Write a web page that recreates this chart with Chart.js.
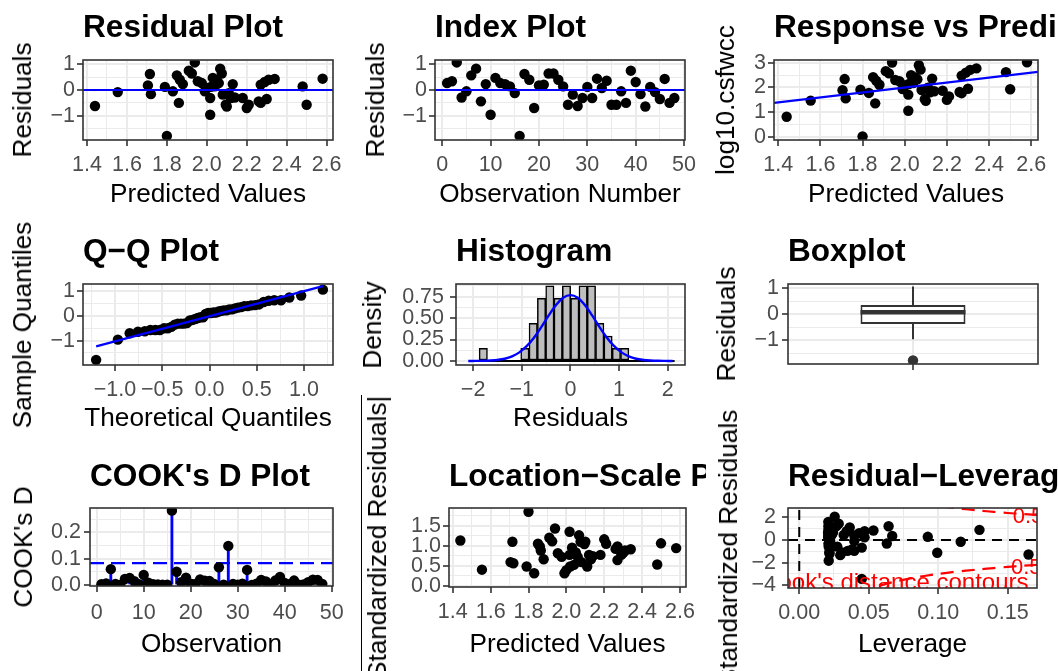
<!DOCTYPE html>
<html>
<head>
<meta charset="utf-8">
<title>Regression diagnostics</title>
<script src="https://cdn.jsdelivr.net/npm/chart.js@4.4.1/dist/chart.umd.min.js"></script>
<style>
  html, body { margin: 0; padding: 0; background: #fff; }
  #page { position: relative; width: 1058px; height: 671px; overflow: hidden; background: #fff;
          font-family: "Liberation Sans", Arial, sans-serif; }
  #page canvas { position: absolute; }
  .ptitle { position: absolute; font-weight: bold; font-size: 31.6px; line-height: 1; white-space: nowrap; color: #000; }
  .ytitle { position: absolute; font-size: 26.2px; line-height: 1; white-space: nowrap; color: #000;
            transform-origin: 0 0; transform: rotate(-90deg) translateX(-50%); }
  .cover { position: absolute; background: #fff; }
</style>
</head>
<body>
<div id="page"></div>
<script>
// ---------- data (one entry per observation, 1..48) ----------
const predicted = [1.975, 1.955, 1.94, 2.14, 1.99, 1.85, 2.067, 2.26, 1.88, 2.017,
  2.03, 2.06, 2.13, 2.04, 2.11, 1.80, 1.715, 1.865, 2.20, 1.705,
  2.27, 1.925, 2.075, 2.31, 2.48, 2.50, 2.08, 1.44, 2.017, 1.79,
  2.18, 2.58, 2.00, 2.05, 2.21, 2.095, 1.83, 1.86, 1.91, 2.29,
  1.72, 2.10, 2.02, 1.554, 2.30, 2.34, 2.27, 2.12];
const residuals = [0.27, 0.34, 1.07, -0.29, -0.05, 0.57, 0.83, -0.44, 0.23, -0.96,
  0.47, 0.27, 0.23, 0.14, -0.12, -1.78, 0.62, 0.40, -0.70, 0.18,
  0.21, 0.64, 0.64, 0.40, 0.14, -0.57, -0.18, -0.62, -0.31, 0.12,
  -0.31, 0.44, 0.08, 0.36, -0.57, -0.57, -0.05, -0.50, 0.75, 0.31,
  -0.16, -0.64, 0.12, -0.08, -0.35, 0.43, -0.50, -0.31];
const response = [2.25, 2.30, 3.01, 1.85, 1.94, 2.42, 2.90, 1.82, 2.11, 1.06,
  2.50, 2.33, 2.36, 2.18, 1.99, 0.02, 2.34, 2.27, 1.50, 1.89,
  2.48, 2.57, 2.72, 2.71, 2.62, 1.93, 1.90, 0.82, 1.71, 1.91,
  1.87, 3.02, 2.08, 2.41, 1.64, 1.53, 1.78, 1.36, 2.66, 2.60,
  1.56, 1.46, 2.14, 1.47, 1.95, 2.77, 1.77, 1.81];
const leverage = [0.023, 0.0243, 0.0255, 0.024, 0.0222, 0.0363, 0.0209, 0.0379, 0.032, 0.0212,
  0.021, 0.0208, 0.0233, 0.0208, 0.0222, 0.045, 0.0643, 0.0341, 0.0295, 0.0669,
  0.0396, 0.0268, 0.021, 0.047, 0.0925, 0.0993, 0.021, 0.165, 0.0212, 0.047,
  0.0274, 0.1297, 0.0218, 0.0208, 0.0307, 0.0216, 0.0396, 0.0348, 0.0284, 0.0431,
  0.063, 0.0218, 0.0211, 0.1162, 0.045, 0.0534, 0.0396, 0.0227];
const stdResid = [0.515, 0.65, 2.045, -0.554, -0.096, 1.096, 1.583, -0.846, 0.441, -1.83,
  0.896, 0.515, 0.439, 0.267, -0.229, -3.437, 1.209, 0.768, -1.341, 0.352,
  0.404, 1.224, 1.22, 0.773, 0.277, -1.133, -0.343, -1.28, -0.591, 0.232,
  -0.593, 0.89, 0.153, 0.686, -1.092, -1.087, -0.096, -0.96, 1.436, 0.598,
  -0.312, -1.221, 0.229, -0.161, -0.676, 0.834, -0.963, -0.592];
const sqrtAbsStd = [0.72, 0.81, 1.43, 0.74, 0.31, 1.05, 1.26, 0.92, 0.66, 1.35,
  0.95, 0.72, 0.66, 0.52, 0.48, 1.85, 1.10, 0.88, 1.16, 0.59,
  0.64, 1.11, 1.10, 0.88, 0.53, 1.06, 0.59, 1.13, 0.77, 0.48,
  0.77, 0.94, 0.39, 0.83, 1.05, 1.04, 0.31, 0.98, 1.20, 0.77,
  0.56, 1.10, 0.48, 0.40, 0.82, 0.91, 0.98, 0.77];
const cooksD = [0.0031, 0.0053, 0.06, 0.0038, 0.0001, 0.0226, 0.0267, 0.0141, 0.0032, 0.038,
  0.0086, 0.0028, 0.0023, 0.0007, 0.0006, 0.282, 0.05, 0.0104, 0.0273, 0.0044,
  0.0034, 0.0206, 0.016, 0.0147, 0.0039, 0.067, 0.0013, 0.148, 0.0038, 0.0013,
  0.005, 0.057, 0.0003, 0.005, 0.0189, 0.013, 0.0002, 0.0166, 0.0301, 0.008,
  0.0033, 0.0166, 0.0006, 0.0017, 0.0108, 0.0196, 0.0191, 0.0041];
const observation = residuals.map((_, i) => i + 1);
const cooksCutoff = 0.083;

const theoQuantiles = [-1.20, -0.97, -0.845, -0.757, -0.685, -0.626, -0.573, -0.525, -0.482, -0.441,
  -0.404, -0.368, -0.334, -0.301, -0.270, -0.239, -0.209, -0.180, -0.151, -0.123,
  -0.096, -0.068, -0.041, -0.014, 0.014, 0.041, 0.068, 0.096, 0.123, 0.151,
  0.180, 0.209, 0.239, 0.270, 0.301, 0.334, 0.368, 0.404, 0.441, 0.482,
  0.525, 0.573, 0.626, 0.685, 0.757, 0.845, 0.97, 1.20];
const sampleQuantiles = [-1.78, -0.96, -0.70, -0.64, -0.62, -0.57, -0.57, -0.57, -0.50, -0.50,
  -0.44, -0.35, -0.31, -0.31, -0.31, -0.29, -0.18, -0.16, -0.12, -0.08,
  -0.05, -0.05, 0.08, 0.12, 0.12, 0.14, 0.14, 0.18, 0.21, 0.23,
  0.23, 0.27, 0.27, 0.31, 0.34, 0.36, 0.40, 0.40, 0.43, 0.44,
  0.47, 0.57, 0.62, 0.64, 0.64, 0.75, 0.83, 1.07];
const qqLine = { slope: 1.02, intercept: -0.011 };
const fitLine = { slope: 1, intercept: 0 };

const histMid = [-1.962, -1.791, -1.620, -1.449, -1.278, -1.107, -0.936, -0.765, -0.594, -0.423,
  -0.252, -0.081, 0.090, 0.261, 0.432, 0.603, 0.774, 0.945, 1.116, 1.287,
  1.458, 1.629, 1.800, 1.971, 2.142];
const histDensity = [0, 0.146, 0, 0, 0, 0, 0.146, 0.44, 0.73, 0.875,
  0.73, 0.875, 0.73, 0.875, 0.875, 0.44, 0.29, 0.146, 0.146, 0,
  0, 0, 0, 0, 0];
const normX = [-2.1, -1.95, -1.8, -1.65, -1.5, -1.35, -1.2, -1.05, -0.9, -0.75, -0.6, -0.45, -0.3, -0.15, 0,
  0.15, 0.3, 0.45, 0.6, 0.75, 0.9, 1.05, 1.2, 1.35, 1.5, 1.65, 1.8, 1.95, 2.1];
const normY = [0.0002, 0.0007, 0.0019, 0.005, 0.012, 0.026, 0.054, 0.100, 0.172, 0.271, 0.394, 0.528, 0.649, 0.736, 0.767,
  0.736, 0.649, 0.528, 0.394, 0.271, 0.172, 0.100, 0.054, 0.026, 0.012, 0.005, 0.0019, 0.0007, 0.0002];

const boxStats = { lo: -0.96, q1: -0.376, med: 0.077, q3: 0.36, hi: 1.07 };
const boxOutliers = [-1.78];

const contourLev = [0.02, 0.03, 0.04, 0.05, 0.06, 0.07, 0.08, 0.09, 0.10, 0.11, 0.12, 0.13, 0.14, 0.15, 0.16, 0.17, 0.18];
const contourUpper = [7.0, 5.69, 4.90, 4.36, 3.96, 3.64, 3.39, 3.18, 3.00, 2.84, 2.71, 2.59, 2.48, 2.38, 2.29, 2.21, 2.13];
const contourLower = [-7.0, -5.69, -4.90, -4.36, -3.96, -3.64, -3.39, -3.18, -3.00, -2.84, -2.71, -2.59, -2.48, -2.38, -2.29, -2.21, -2.13];

// tick values and labels
const predTicks = [1.4, 1.6, 1.8, 2.0, 2.2, 2.4, 2.6];
const predLabels = ['1.4', '1.6', '1.8', '2.0', '2.2', '2.4', '2.6'];
const resTicks = [-1, 0, 1];
const resLabels = ['\u22121', '0', '1'];
const obsTicks = [0, 10, 20, 30, 40, 50];
const obsLabels = ['0', '10', '20', '30', '40', '50'];
const respTicks = [0, 1, 2, 3];
const respLabels = ['0', '1', '2', '3'];
const qTicks = [-1, -0.5, 0, 0.5, 1];
const qLabels = ['\u22121.0', '\u22120.5', '0.0', '0.5', '1.0'];
const histTicks = [-2, -1, 0, 1, 2];
const histLabels = ['\u22122', '\u22121', '0', '1', '2'];
const densTicks = [0, 0.25, 0.5, 0.75];
const densLabels = ['0.00', '0.25', '0.50', '0.75'];
const cookTicks = [0, 0.1, 0.2];
const cookLabels = ['0.0', '0.1', '0.2'];
const lsTicks = [0, 0.5, 1, 1.5];
const lsLabels = ['0.0', '0.5', '1.0', '1.5'];
const levTicks = [0, 0.05, 0.10, 0.15];
const levLabels = ['0.00', '0.05', '0.10', '0.15'];
const sresTicks = [-4, -2, 0, 2];
const sresLabels = ['\u22124', '\u22122', '0', '2'];

// ---------- helpers ----------
const FONT = '"Liberation Sans", Arial, sans-serif';
const BLUE = '#0000FF', DARK = '#333333';
const TICK_FS = 21.5, AXIS_FS = 26.2, TITLE_FS = 31.6, PT = 5.2;
const page = document.getElementById('page');
const xy = (xs, ys) => xs.map((x, i) => ({ x, y: ys[i] }));

function buildTicks(major, min, max) {
  const out = major.map(v => ({ v, m: true }));
  if (major.length > 1) {
    const step = major[1] - major[0];
    const mids = [major[0] - step / 2];
    for (let i = 0; i < major.length - 1; i++) mids.push((major[i] + major[i + 1]) / 2);
    mids.push(major[major.length - 1] + step / 2);
    mids.forEach(v => out.push({ v, m: false }));
  }
  return out.filter(t => t.v >= min - 1e-9 && t.v <= max + 1e-9).sort((a, b) => a.v - b.v);
}

function axis(o, pos, size) {
  const list = buildTicks(o.ticks, o.min, o.max);
  const label = v => {
    const i = o.ticks.findIndex(t => Math.abs(t - v) < 1e-9);
    return i < 0 || !o.labels ? '' : o.labels[i];
  };
  return {
    type: 'linear', position: pos, min: o.min, max: o.max, offset: false,
    afterBuildTicks: s => { s.ticks = list.map(t => ({ value: t.v, isMajor: t.m })); },
    afterFit: s => { if (pos === 'left') s.width = size; else s.height = size; },
    grid: {
      color: '#EBEBEB',
      lineWidth: c => (c.tick && c.tick.isMajor ? 2 : 1),
      tickColor: c => (c.tick && c.tick.isMajor ? DARK : 'rgba(0,0,0,0)'),
      tickLength: 6, tickWidth: 1.6, drawTicks: true, offset: false
    },
    border: { display: false },
    ticks: {
      autoSkip: false, maxRotation: 0, minRotation: 0,
      padding: o.tickPad !== undefined ? o.tickPad : (pos === 'left' ? 2 : 6),
      color: '#4D4D4D', font: { family: FONT, size: TICK_FS },
      callback: (v, i, arr) => (arr[i].isMajor ? label(arr[i].value) : '')
    },
    title: o.title
      ? { display: true, text: o.title, color: '#000', font: { family: FONT, size: AXIS_FS }, padding: { top: 0, bottom: o.titlePad } }
      : { display: false }
  };
}

const frame = {
  id: 'frame',
  afterDraw(chart) {
    const a = chart.chartArea, ctx = chart.ctx;
    ctx.save();
    ctx.strokeStyle = DARK; ctx.lineWidth = 1.6;
    ctx.strokeRect(a.left, a.top, a.right - a.left, a.bottom - a.top);
    ctx.restore();
  }
};

const pts = (data, order, color) => ({
  type: 'scatter', data, pointRadius: PT, pointHoverRadius: PT, pointBackgroundColor: color || '#000',
  pointBorderWidth: 0, showLine: false, order, clip: 0
});
const line = (data, color, width, order, dash) => ({
  type: 'line', data, borderColor: color, borderWidth: width, borderDash: dash || [], pointRadius: 0,
  fill: false, tension: 0, order, clip: 0
});

function panel(p) {
  const [cx, cy, cw, ch] = p.cell;
  const [L, T, R, B] = p.area;
  const cv = document.createElement('canvas');
  cv.width = cw; cv.height = ch;
  cv.style.left = cx + 'px'; cv.style.top = cy + 'px';
  page.appendChild(cv);
  new Chart(cv, {
    type: 'scatter',
    data: { datasets: p.datasets },
    options: {
      responsive: false, animation: false, devicePixelRatio: 1, events: [],
      layout: { padding: { left: 0, top: T - cy, right: cx + cw - R, bottom: 0 } },
      plugins: { legend: { display: false }, tooltip: { enabled: false }, title: { display: false } },
      scales: { x: axis(p.x, 'bottom', cy + ch - B), y: axis(p.y, 'left', L - cx) }
    },
    plugins: [frame].concat(p.plugins || [])
  });
  const t = document.createElement('div');
  t.className = 'ptitle';
  t.textContent = p.title;
  t.style.left = L + 'px';
  t.style.top = (p.titleBase - 0.8465 * TITLE_FS) + 'px';
  page.appendChild(t);
  const y = document.createElement('div');
  y.className = 'ytitle';
  if (p.yHtml) y.innerHTML = p.yHtml; else y.textContent = p.ytitle;
  y.style.left = (p.yBase - 0.8465 * AXIS_FS) + 'px';
  y.style.top = ((T + B) / 2) + 'px';
  page.appendChild(y);
}

// ---------- panels ----------
const predLim = [1.38, 2.632];
const resLim = [-1.94, 1.165];
const ROW_BASE = [38, 262, 487];

// 1 Residual plot
panel({
  cell: [0, 0, 353, 224], area: [83, 60, 333, 140], title: 'Residual Plot', titleBase: ROW_BASE[0],
  ytitle: 'Residuals', yBase: 31,
  x: { min: predLim[0], max: predLim[1], ticks: predTicks, labels: predLabels, title: 'Predicted Values', titlePad: 13.5 },
  y: { min: resLim[0], max: resLim[1], ticks: resTicks, labels: resLabels },
  datasets: [
    line([{ x: predLim[0], y: 0 }, { x: predLim[1], y: 0 }], BLUE, 2.2, 0),
    pts(xy(predicted, residuals), 1)
  ]
});

// 2 Index plot
panel({
  cell: [353, 0, 353, 224], area: [435, 60, 685, 140], title: 'Index Plot', titleBase: ROW_BASE[0],
  ytitle: 'Residuals', yBase: 384,
  x: { min: -1.5, max: 50.2, ticks: obsTicks, labels: obsLabels, title: 'Observation Number', titlePad: 13.5 },
  y: { min: resLim[0], max: resLim[1], ticks: resTicks, labels: resLabels },
  datasets: [
    line([{ x: -1.5, y: 0 }, { x: 50.2, y: 0 }], BLUE, 2.2, 0),
    pts(xy(observation, residuals), 1)
  ]
});

// 3 Response vs predicted
panel({
  cell: [706, 0, 352, 224], area: [774, 60, 1038, 140], title: 'Response vs Predicted', titleBase: ROW_BASE[0],
  ytitle: 'log10.csfwcc', yBase: 734,
  x: { min: predLim[0], max: predLim[1], ticks: predTicks, labels: predLabels, title: 'Predicted Values', titlePad: 13.5 },
  y: { min: -0.12, max: 3.11, ticks: respTicks, labels: respLabels },
  datasets: [
    line(predLim.map(v => ({ x: v, y: fitLine.intercept + fitLine.slope * v })), BLUE, 2.2, 0),
    pts(xy(predicted, response), 1)
  ]
});

// 4 Q-Q plot
const qqEnds = [theoQuantiles[0], theoQuantiles[theoQuantiles.length - 1]];
panel({
  cell: [0, 224, 353, 223], area: [83, 284, 333, 365], title: 'Q\u2212Q Plot', titleBase: ROW_BASE[1],
  ytitle: 'Sample Quantiles', yBase: 31,
  x: { min: -1.339, max: 1.307, ticks: qTicks, labels: qLabels, title: 'Theoretical Quantiles', titlePad: 13 },
  y: { min: -1.99, max: 1.30, ticks: resTicks, labels: resLabels },
  datasets: [
    line(qqEnds.map(v => ({ x: v, y: qqLine.intercept + qqLine.slope * v })), BLUE, 2.2, 0),
    pts(xy(theoQuantiles, sampleQuantiles), 1)
  ]
});

// 5 Histogram
const binW = histMid[1] - histMid[0];
panel({
  cell: [353, 224, 353, 223], area: [456, 284, 685, 365], title: 'Histogram', titleBase: ROW_BASE[1],
  ytitle: 'Density', yBase: 381,
  x: { min: -2.352, max: 2.355, ticks: histTicks, labels: histLabels, title: 'Residuals', titlePad: 13 },
  y: { min: -0.047, max: 0.897, ticks: densTicks, labels: densLabels, tickPad: 6 },
  datasets: [
    Object.assign(line(xy(normX, normY), BLUE, 2.4, 0), { tension: 0.4 }),
    line([{ x: histMid[0] - binW / 2, y: 0 }, { x: histMid[histMid.length - 1], y: 0 }], '#000', 2, 1),
    {
      type: 'bar', data: xy(histMid, histDensity), backgroundColor: '#BEBEBE', borderColor: '#000',
      borderWidth: 1.5, borderSkipped: false, barPercentage: 1, categoryPercentage: 1, order: 2, clip: 0
    }
  ]
});

// 6 Boxplot
const boxHalf = 0.42, boxX = [-1, 1];
panel({
  cell: [706, 224, 352, 223], area: [788, 284, 1038, 364], title: 'Boxplot', titleBase: ROW_BASE[1],
  ytitle: 'Residuals', yBase: 735,
  x: { min: boxX[0], max: boxX[1], ticks: [0], labels: null },
  y: { min: -1.92, max: 1.17, ticks: resTicks, labels: resLabels, tickPad: 3 },
  datasets: [
    line([{ x: -boxHalf, y: boxStats.med }, { x: boxHalf, y: boxStats.med }], DARK, 4.5, 0),
    line([{ x: 0, y: boxStats.q3 }, { x: 0, y: boxStats.hi }], DARK, 2, 1),
    line([{ x: 0, y: boxStats.q1 }, { x: 0, y: boxStats.lo }], DARK, 2, 1),
    pts(boxOutliers.map(v => ({ x: 0, y: v })), 1, DARK),
    {
      type: 'bar', data: [{ x: 0, y: [boxStats.q1, boxStats.q3] }], backgroundColor: '#FFFFFF', borderColor: DARK,
      borderWidth: 2, borderSkipped: false, barPercentage: (2 * boxHalf) / (boxX[1] - boxX[0]),
      categoryPercentage: 1, order: 2, clip: 0
    }
  ]
});

// 7 Cook's D
panel({
  cell: [0, 447, 353, 224], area: [90, 508, 333, 586], title: "COOK's D Plot", titleBase: ROW_BASE[2],
  ytitle: "COOK's D", yBase: 32,
  x: { min: -1.43, max: 50.28, ticks: obsTicks, labels: obsLabels, title: 'Observation', titlePad: 10.5, tickPad: 8 },
  y: { min: -0.004, max: 0.292, ticks: cookTicks, labels: cookLabels, tickPad: 3 },
  datasets: [
    pts(xy(observation, cooksD), 0),
    line([{ x: -1.43, y: cooksCutoff }, { x: 50.28, y: cooksCutoff }], BLUE, 2.2, 1, [14, 7]),
    {
      type: 'bar', data: observation.map((o, i) => ({ x: o, y: [0, cooksD[i]] })), backgroundColor: BLUE,
      borderWidth: 0, barThickness: 2.2, order: 2, clip: 0
    }
  ]
});

// 8 Location-scale
panel({
  cell: [353, 447, 353, 224], area: [449, 508, 686, 587], title: 'Location\u2212Scale Plot', titleBase: ROW_BASE[2],
  yHtml: '<span>\u221A</span><span style="border-top:1.7px solid #000">|Standardized Residuals|</span>', yBase: 386,
  x: { min: predLim[0], max: predLim[1], ticks: predTicks, labels: predLabels, title: 'Predicted Values', titlePad: 10.5 },
  y: { min: -0.033, max: 1.943, ticks: lsTicks, labels: lsLabels },
  datasets: [pts(xy(predicted, sqrtAbsStd), 0)]
});

// 9 Residual-leverage (its white backdrop hides the previous title overflow)
const cover = document.createElement('div');
cover.className = 'cover';
Object.assign(cover.style, { left: '706px', top: '447px', width: '352px', height: '224px' });
page.appendChild(cover);

const levX = [-0.0081, 0.1711], levY = [-4.24, 2.82];
const levText = {
  id: 'levText',
  afterDatasetsDraw(chart) {
    const { ctx, chartArea: a } = chart;
    const sx = chart.scales.x, sy = chart.scales.y;
    ctx.save();
    ctx.beginPath(); ctx.rect(a.left, a.top, a.right - a.left, a.bottom - a.top); ctx.clip();
    ctx.fillStyle = '#FF0000';
    ctx.font = '24px ' + FONT;
    ctx.textAlign = 'right'; ctx.textBaseline = 'alphabetic';
    ctx.fillText("Cook's distance contours", sx.getPixelForValue(0.165), sy.getPixelForValue(levY[0]) + 2);
    ctx.font = '22px ' + FONT;
    ctx.textAlign = 'left'; ctx.textBaseline = 'middle';
    ctx.fillText('0.5', sx.getPixelForValue(0.1536), sy.getPixelForValue(2.07));
    ctx.fillText('0.5', sx.getPixelForValue(0.1524), sy.getPixelForValue(-2.48));
    ctx.restore();
  }
};
panel({
  cell: [706, 447, 352, 224], area: [788, 508, 1037, 588], title: 'Residual\u2212Leverage Plot', titleBase: ROW_BASE[2],
  ytitle: 'Standardized Residuals', yBase: 737,
  x: { min: levX[0], max: levX[1], ticks: levTicks, labels: levLabels, title: 'Leverage', titlePad: 10.5 },
  y: { min: levY[0], max: levY[1], ticks: sresTicks, labels: sresLabels, tickPad: 6 },
  plugins: [levText],
  datasets: [
    pts(xy(leverage, stdResid), 0),
    Object.assign(line(xy(contourLev, contourUpper), '#FF0000', 2.2, 1, [13, 8]), { tension: 0.3 }),
    Object.assign(line(xy(contourLev, contourLower), '#FF0000', 2.2, 1, [13, 8]), { tension: 0.3 }),
    line([{ x: levX[0], y: 0 }, { x: levX[1], y: 0 }], '#000', 2, 2, [10, 7]),
    line([{ x: 0, y: levY[0] }, { x: 0, y: levY[1] }], '#000', 2, 2, [10, 7])
  ]
});
</script>
</body>
</html>
